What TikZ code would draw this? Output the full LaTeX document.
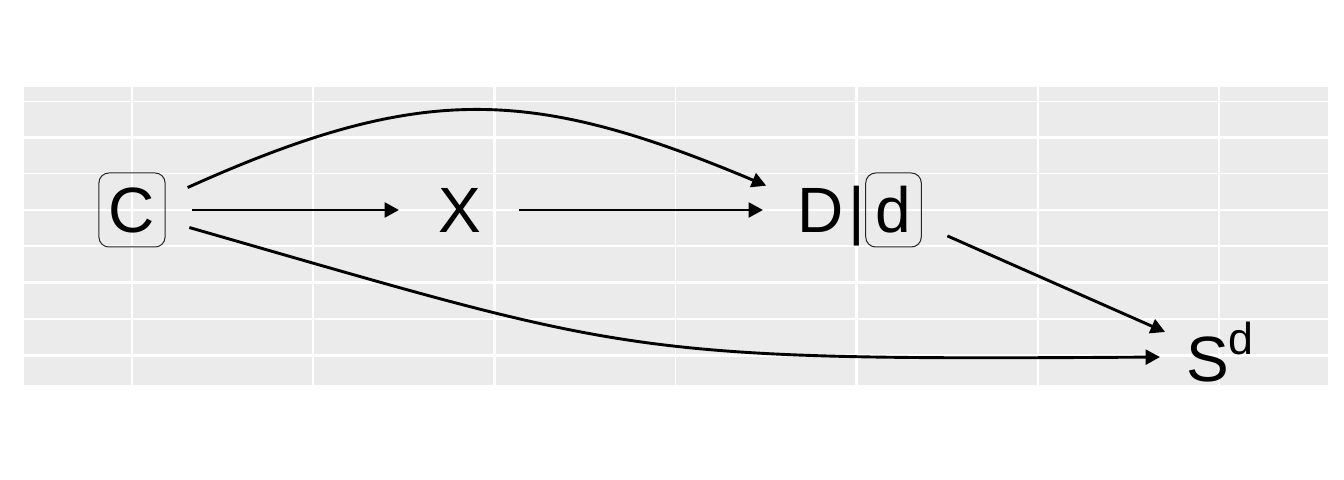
\documentclass[tikz,border=0pt]{standalone}
\usepackage{fontspec}
\setmainfont{Liberation Sans}
\usetikzlibrary{arrows.meta}
\definecolor{panelgray}{HTML}{EBEBEB}
\begin{document}
\begin{tikzpicture}[x=0.5pt,y=-0.5pt,
  % invisible circles that the edges attach to
  vert/.style={circle, inner sep=0pt, outer sep=0pt, minimum size=60pt},
  vertwide/.style={vert, minimum size=94pt},
  vertsmall/.style={vert, minimum size=59pt},
  lab/.style={font=\fontsize{32}{38}\selectfont, inner sep=0pt},
  boxed/.style={lab, draw=black!85, line width=0.5pt, rounded corners=5pt,
    text height=23pt, text depth=0pt, inner xsep=5pt, inner ysep=7pt},
  edge/.style={line width=1.45pt, -{Triangle[length=7.2pt,width=7.4pt]}},
  majorgrid/.style={white, line width=1.45pt},
  minorgrid/.style={white, line width=0.8pt}
]
\useasboundingbox (0,0) rectangle (1344,480);

% panel and grid
\fill[panelgray] (24,87) rectangle (1328,385);
\foreach \y in {101.5,173.7,246.3,319}
  \draw[minorgrid] (24,\y) -- (1328,\y);
\foreach \x in {313.2,675.5,1037.8}
  \draw[minorgrid] (\x,87) -- (\x,385);
\foreach \y in {137.3,210,282.7,355.4}
  \draw[majorgrid] (24,\y) -- (1328,\y);
\foreach \x in {132,494.3,856.7,1219}
  \draw[majorgrid] (\x,87) -- (\x,385);

% graph nodes
\node[vert] (C) at (132,210) {};
\node[vert] (X) at (459,210) {};
\node[vertwide] (D) at (857,210) {};
\node[vertsmall] (S) at (1219,356) {};

% labels
\node[boxed] (Clab) at (132,210) {C};
\node[lab, anchor=base] (Xlab) at (460,233) {X};
\node[lab, anchor=base] (Dlab) at (820.5,233) {D};
\node[lab, anchor=base] (bar) at (856.5,233) {|};
\node[boxed] (dlab) at (893.5,210) {d};
\node[lab, anchor=base] (Slab) at (1220,382)
  {S\raisebox{13.5pt}{\fontsize{22.4}{26}\selectfont d}};

% edges
\draw[edge] (C.0) -- (X.180);
\draw[edge] (X.0) -- (D.180);
\draw[edge] (C.22) .. controls +(234.5,-105.5) and +(-234.5,-98.5) .. (D.165);
\draw[edge] (C.-17) .. controls +(444,127.4) and +(-539,3.6) .. (S.181);
\draw[edge] (D.-16) -- (S.156);
\end{tikzpicture}
\end{document}
